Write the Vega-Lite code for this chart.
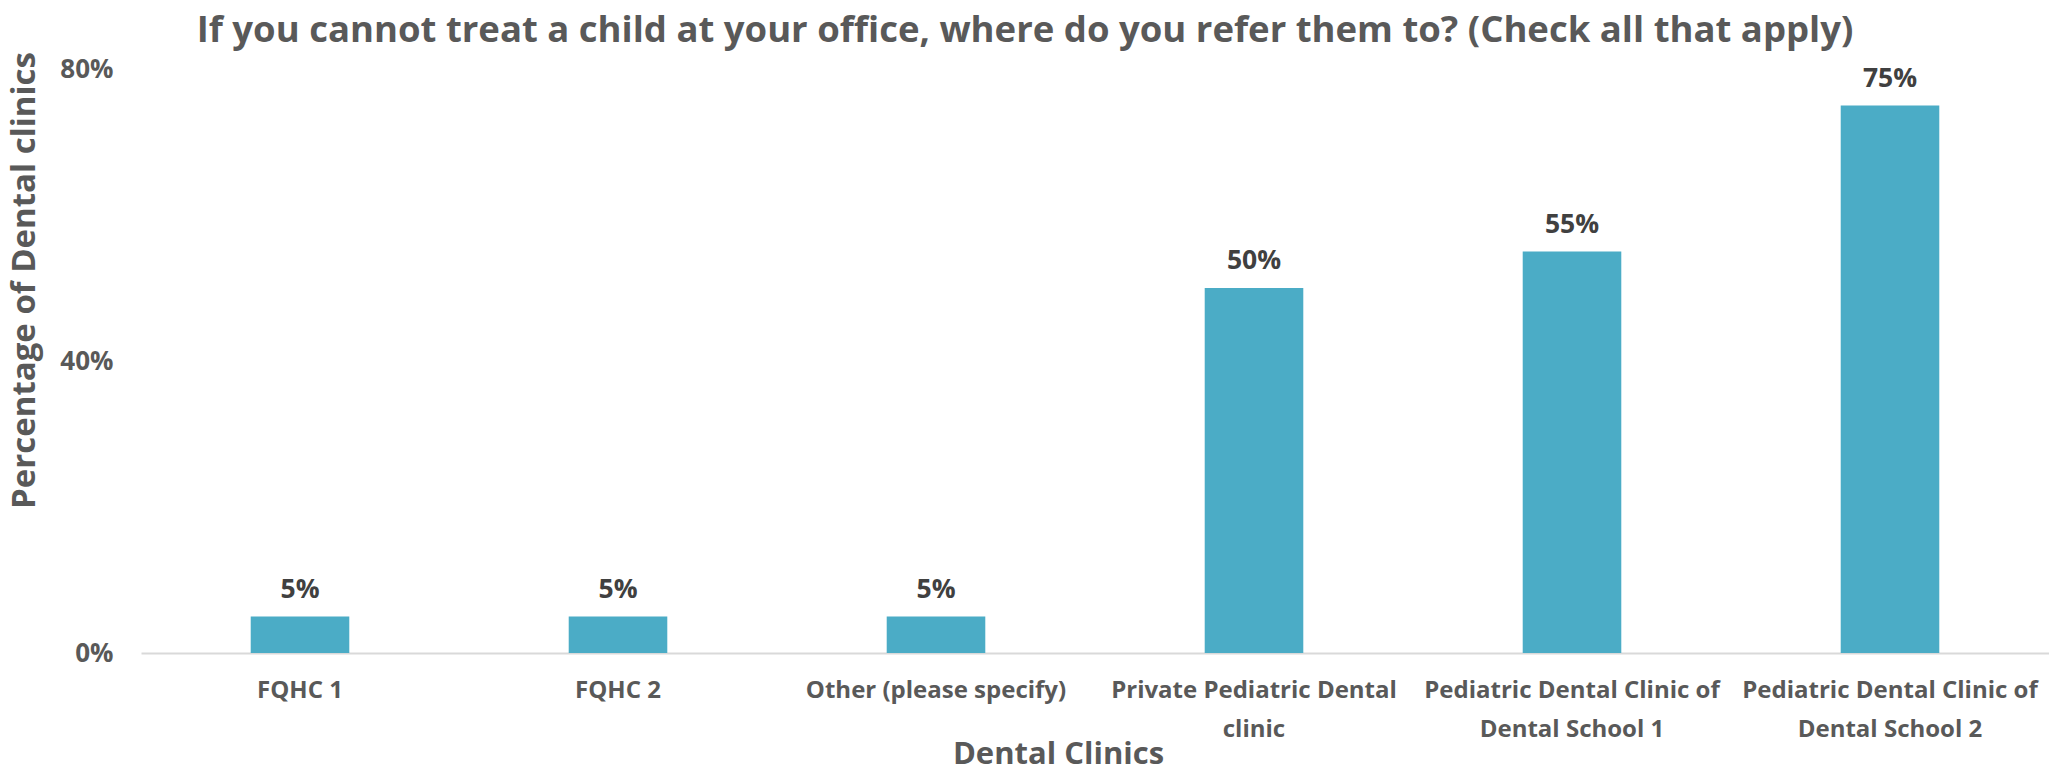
{
  "$schema": "https://vega.github.io/schema/vega-lite/v6.json",
  "width": 1908,
  "height": 584,
  "autosize": "none",
  "padding": {"left": 141, "top": 69, "right": 0, "bottom": 119},
  "background": "white",
  "config": {"view": {"stroke": null}, "font": "Open Sans"},
  "title": {
    "text": "If you cannot treat a child at your office, where do you refer them to? (Check all that apply)",
    "font": "Open Sans",
    "fontSize": 36.5,
    "fontWeight": "bold",
    "color": "#595959",
    "anchor": "middle",
    "frame": "group",
    "baseline": "alphabetic",
    "offset": 29,
    "dy": 56,
    "dx": -70
  },
  "data": {
    "values": [
      {"clinic": "FQHC 1", "pct": 0.05},
      {"clinic": "FQHC 2", "pct": 0.05},
      {"clinic": "Other (please specify)", "pct": 0.05},
      {"clinic": "Private Pediatric Dental clinic", "pct": 0.50},
      {"clinic": "Pediatric Dental Clinic of Dental School 1", "pct": 0.55},
      {"clinic": "Pediatric Dental Clinic of Dental School 2", "pct": 0.75}
    ]
  },
  "encoding": {
    "x": {
      "field": "clinic",
      "type": "nominal",
      "sort": null,
      "scale": {"paddingInner": 0.69, "paddingOuter": 0.345},
      "axis": {
        "title": "Dental Clinics",
        "titleFont": "Open Sans",
        "titleFontSize": 31,
        "titleFontWeight": "bold",
        "titleColor": "#595959",
        "titleX": 917,
        "titleY": 101,
        "titleAlign": "center",
        "titleBaseline": "middle",
        "labelAngle": 0,
        "labelFont": "Open Sans",
        "labelFontSize": 24,
        "labelFontWeight": "bold",
        "labelColor": "#595959",
        "labelPadding": 25,
        "labelBaseline": "top",
        "labelLineHeight": 39,
        "labelLimit": 400,
        "labelExpr": "datum.label == 'Private Pediatric Dental clinic' ? ['Private Pediatric Dental', 'clinic'] : datum.label == 'Pediatric Dental Clinic of Dental School 1' ? ['Pediatric Dental Clinic of', 'Dental School 1'] : datum.label == 'Pediatric Dental Clinic of Dental School 2' ? ['Pediatric Dental Clinic of', 'Dental School 2'] : datum.label",
        "ticks": false,
        "domainColor": "#D9D9D9",
        "domainWidth": 2,
        "grid": false
      }
    },
    "y": {
      "field": "pct",
      "type": "quantitative",
      "scale": {"domain": [0, 0.8], "nice": false},
      "axis": {
        "title": "Percentage of Dental clinics",
        "titleFont": "Open Sans",
        "titleFontSize": 33,
        "titleFontWeight": "bold",
        "titleColor": "#595959",
        "titleAngle": -90,
        "titleX": -117,
        "titleY": 211,
        "titleAlign": "center",
        "titleBaseline": "middle",
        "values": [0, 0.4, 0.8],
        "format": ".0%",
        "labelFont": "Open Sans",
        "labelFontSize": 26,
        "labelFontWeight": "bold",
        "labelColor": "#595959",
        "labelPadding": 28,
        "ticks": false,
        "domain": false,
        "grid": false
      }
    }
  },
  "layer": [
    {"mark": {"type": "bar", "color": "#4BACC6"}},
    {
      "mark": {"type": "text", "baseline": "middle", "dy": -27, "font": "Open Sans", "fontSize": 26.5, "fontWeight": "bold", "color": "#404040"},
      "encoding": {"text": {"field": "pct", "type": "quantitative", "format": ".0%"}}
    }
  ]
}
